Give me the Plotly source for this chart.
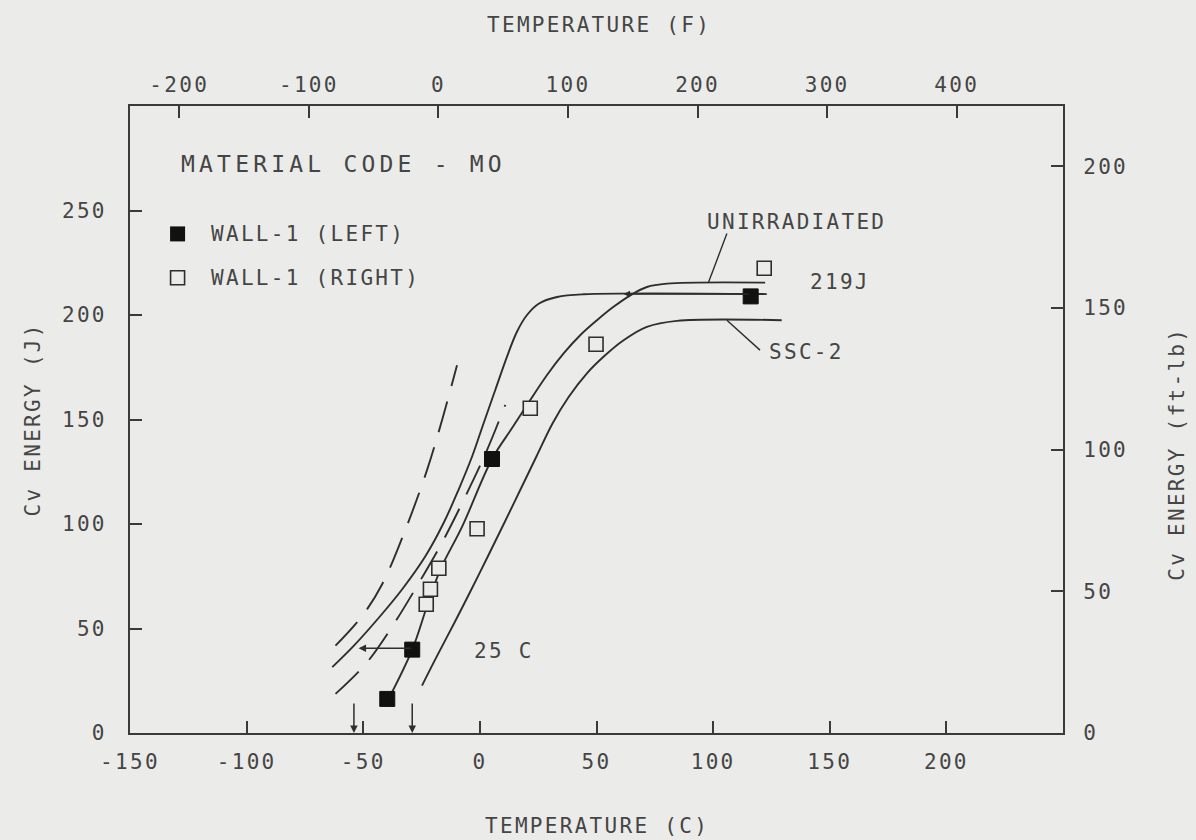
import plotly.graph_objects as go

# ---------------- data ----------------
# Specimen data: temperature (C), Charpy energy (J)
wall_left_T = [-39.7, -29.0, 5.2, 116.1]
wall_left_J = [16.3, 39.9, 131.1, 208.9]
wall_right_T = [-23.0, -21.2, -17.6, -1.2, 21.6, 49.8, 121.9]
wall_right_J = [61.6, 68.8, 78.8, 97.7, 155.4, 186.0, 222.4]

# Left solid curve
curve_a_T = [-63.3, -54.0, -42.6, -33.3, -23.3, -15.5, -9.1, -3.3, 1.6, 6.6, 11.6, 15.9, 20.2, 25.2, 33.1, 44.5, 123.0]
curve_a_J = [31.5, 41.8, 56.1, 68.8, 84.7, 100.6, 116.5, 132.4, 148.2, 164.1, 180.0, 192.0, 200.0, 205.4, 208.6, 209.9, 210.0]
# Middle solid curve (through the data, "UNIRRADIATED" leader)
curve_b_T = [-39.1, -29.0, -22.6, -16.9, -7.5, 5.2, 13.8, 21.6, 28.8, 35.9, 43.0, 50.2, 57.3, 64.5, 71.6, 80.2, 122.3]
curve_b_J = [16.4, 39.9, 60.9, 78.3, 99.0, 131.1, 145.9, 159.3, 171.3, 181.6, 190.3, 197.5, 203.9, 209.4, 213.4, 215.0, 215.5]
# Right solid curve (SSC-2)
curve_c_T = [-24.8, -18.3, -10.8, -3.6, 3.5, 10.5, 17.4, 24.3, 31.2, 38.2, 45.9, 53.0, 61.6, 71.6, 84.5, 129.4]
curve_c_J = [22.7, 37.0, 53.0, 68.8, 84.7, 100.6, 116.5, 132.4, 148.2, 161.0, 172.1, 180.0, 187.9, 194.3, 197.2, 197.5]
# Dashed band curves
dash_a_T = [-61.9, -50.4, -41.9, -31.9, -22.6, -16.2, -9.8]
dash_a_J = [41.8, 56.1, 71.2, 97.4, 126.0, 149.8, 176.0]
dash_b_T = [-61.9, -49.0, -38.3, -26.9, -15.5, -4.1, 3.1, 10.9]
dash_b_J = [18.7, 33.0, 49.7, 70.4, 92.6, 118.1, 135.5, 157.0]

# Reference markers
shift_J = 40.5                 # 41 J shift arrow level
shift_T = [-29.0, -52.0]       # from data fit to left arrow head
index_T = [-54.0, -29.0]       # vertical arrows to the temperature axis
index_top_J = 14.8
shelf_arrow_T = [116.0, 61.6]
shelf_arrow_J = 210.0
unirr_leader_T = [105.9, 98.0]
unirr_leader_J = [239.0, 215.5]
ssc_leader_T = [105.9, 120.1]
ssc_leader_J = [197.5, 183.2]

# Axis ticks
c_ticks = [-150, -100, -50, 0, 50, 100, 150, 200]
f_ticks = [-200, -100, 0, 100, 200, 300, 400]
j_ticks = [0, 50, 100, 150, 200, 250]
ftlb_ticks = [0, 50, 100, 150, 200]
c_range = [-150, 250]
j_range = [0, 300]
J_PER_FTLB = 1.35582

# ---------------- styling ----------------
BG = "#ebebe9"
INK = "#2e2e2e"
TXT = "#454545"
FONT = "DejaVu Sans Mono"


def sp(s, ls=2.3):
    return f'<span style="letter-spacing:{ls}px">{s}</span>'


tickfont = dict(family=FONT, size=21, color=TXT)
line_style = dict(color=INK, width=1.9)

fig = go.Figure()

for tx, jy in [(curve_a_T, curve_a_J), (curve_b_T, curve_b_J), (curve_c_T, curve_c_J)]:
    fig.add_trace(go.Scatter(x=tx, y=jy, mode="lines", line=dict(shape="spline", smoothing=1.0, **line_style),
                             showlegend=False, hoverinfo="skip"))
for tx, jy in [(dash_a_T, dash_a_J), (dash_b_T, dash_b_J)]:
    fig.add_trace(go.Scatter(x=tx, y=jy, mode="lines",
                             line=dict(shape="spline", smoothing=1.0, dash="32px,16px", **line_style),
                             showlegend=False, hoverinfo="skip"))

# leader lines
for tx, jy in [(unirr_leader_T, unirr_leader_J), (ssc_leader_T, ssc_leader_J)]:
    fig.add_trace(go.Scatter(x=tx, y=jy, mode="lines", line=dict(color=INK, width=1.4),
                             showlegend=False, hoverinfo="skip"))

# specimen markers
fig.add_trace(go.Scatter(x=wall_right_T, y=wall_right_J, mode="markers", name="WALL-1 (RIGHT)",
                         marker=dict(symbol="square", size=14, color=BG, line=dict(color=INK, width=1.6)),
                         showlegend=False))
fig.add_trace(go.Scatter(x=wall_left_T, y=wall_left_J, mode="markers", name="WALL-1 (LEFT)",
                         marker=dict(symbol="square", size=15, color="#111111", line=dict(color="#111111", width=1)),
                         showlegend=False))

# invisible trace to bind secondary axes
fig.add_trace(go.Scatter(x=[c_range[0] * 1.8 + 32], y=[0], xaxis="x2", yaxis="y2", mode="markers",
                         marker=dict(opacity=0), showlegend=False, hoverinfo="skip"))

annotations = []
# arrows
annotations.append(dict(x=shift_T[1], y=shift_J, ax=shift_T[0], ay=shift_J, xref="x", yref="y",
                        axref="x", ayref="y", showarrow=True, arrowhead=2, arrowsize=1, arrowwidth=1.5,
                        arrowcolor=INK, text=""))
for t in index_T:
    annotations.append(dict(x=t, y=0, ax=t, ay=index_top_J, xref="x", yref="y", axref="x", ayref="y",
                            showarrow=True, arrowhead=2, arrowsize=1, arrowwidth=1.5, arrowcolor=INK, text=""))
annotations.append(dict(x=shelf_arrow_T[1], y=shelf_arrow_J, ax=shelf_arrow_T[0], ay=shelf_arrow_J,
                        xref="x", yref="y", axref="x", ayref="y", showarrow=True, arrowhead=2,
                        arrowsize=1, arrowwidth=1.3, arrowcolor=INK, text=""))

# legend (manual)
legend_T = -129.6
legend_J = [238.8, 217.8]
legend_text_T = -116.0
fig.add_trace(go.Scatter(x=[legend_T], y=[legend_J[0]], mode="markers",
                         marker=dict(symbol="square", size=15, color="#111111"), showlegend=False, hoverinfo="skip"))
fig.add_trace(go.Scatter(x=[legend_T], y=[legend_J[1]], mode="markers",
                         marker=dict(symbol="square", size=14, color=BG, line=dict(color=INK, width=1.6)),
                         showlegend=False, hoverinfo="skip"))


def txt(x, y, s, size=21, ls=2.3, xanchor="left"):
    return dict(x=x, y=y, xref="x", yref="y", text=sp(s, ls), showarrow=False, xanchor=xanchor,
                yanchor="middle", font=dict(family=FONT, size=size, color=TXT))


annotations += [
    txt(legend_text_T, legend_J[0], "WALL-1 (LEFT)"),
    txt(legend_text_T, legend_J[1], "WALL-1 (RIGHT)"),
    txt(-129.1, 272.2, "MATERIAL CODE - MO", size=23, ls=4.2),
    txt(96.5, 244.7, "UNIRRADIATED"),
    txt(140.8, 216.0, "219J"),
    txt(123.0, 182.4, "SSC-2"),
    txt(-3.3, 39.4, "25 C"),
]

# axis titles
annotations += [
    dict(x=0.503, y=1.129, xref="paper", yref="paper", text=sp("TEMPERATURE (F)"), showarrow=False,
         xanchor="center", yanchor="middle", font=dict(family=FONT, size=21, color=TXT)),
    dict(x=0.5, y=-0.148, xref="paper", yref="paper", text=sp("TEMPERATURE (C)"), showarrow=False,
         xanchor="center", yanchor="middle", font=dict(family=FONT, size=21, color=TXT)),
    dict(x=-0.105, y=0.50, xref="paper", yref="paper", text=sp("Cv ENERGY (J)"), showarrow=False,
         textangle=-90, xanchor="center", yanchor="middle", font=dict(family=FONT, size=21, color=TXT)),
    dict(x=1.122, y=0.445, xref="paper", yref="paper", text=sp("Cv ENERGY (ft-lb)"), showarrow=False,
         textangle=-90, xanchor="center", yanchor="middle", font=dict(family=FONT, size=21, color=TXT)),
]

axis_common = dict(showgrid=False, zeroline=False, showline=True, linecolor="#3a3a3a", linewidth=2,
                   ticks="inside", ticklen=12, tickwidth=1.6, tickcolor="#3a3a3a", tickfont=tickfont)

fig.update_layout(
    width=1196, height=840,
    margin=dict(l=130, r=133, t=106, b=107),
    paper_bgcolor=BG, plot_bgcolor=BG,
    showlegend=False,
    xaxis=dict(range=c_range, tickvals=c_ticks, ticktext=[sp(v) for v in c_ticks],
               ticklabelstandoff=9, **axis_common),
    xaxis2=dict(range=[c_range[0] * 1.8 + 32, c_range[1] * 1.8 + 32], overlaying="x", side="top",
                anchor="y", tickvals=f_ticks, ticktext=[sp(v) for v in f_ticks], ticklabelstandoff=4,
                **axis_common),
    yaxis=dict(range=j_range, tickvals=j_ticks, ticktext=[sp(v) for v in j_ticks],
               ticklabelstandoff=17, **axis_common),
    yaxis2=dict(range=[j_range[0] / J_PER_FTLB, j_range[1] / J_PER_FTLB], overlaying="y", side="right",
                anchor="x", tickvals=ftlb_ticks, ticktext=[sp(v) for v in ftlb_ticks],
                ticklabelstandoff=14, **axis_common),
    annotations=annotations,
)

fig.write_html("out.html")
